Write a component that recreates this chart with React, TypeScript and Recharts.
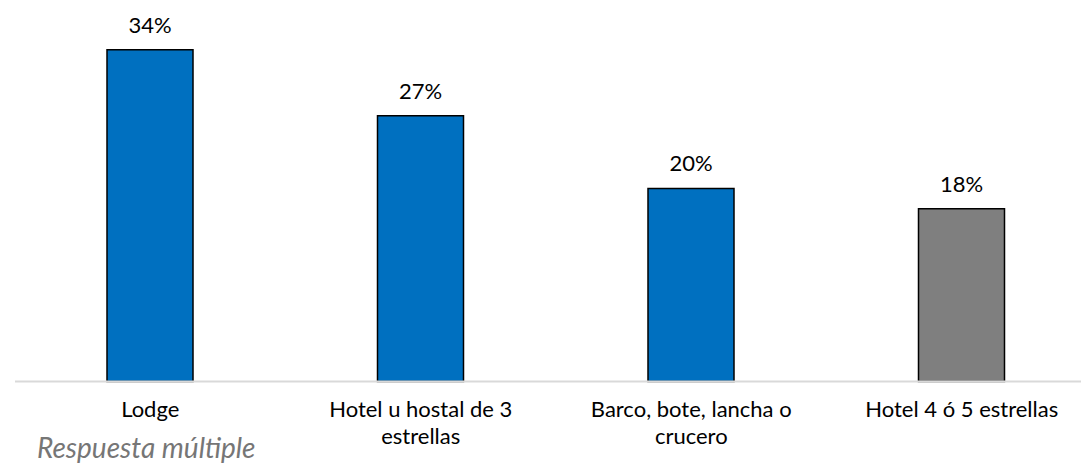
import { BarChart, Bar, XAxis, YAxis, LabelList, Cell } from "recharts"

const categories = [
  "Lodge",
  "Hotel u hostal de 3 estrellas",
  "Barco, bote, lancha o crucero",
  "Hotel 4 ó 5 estrellas",
]
const tickLines = [
  ["Lodge"],
  ["Hotel u hostal de 3", "estrellas"],
  ["Barco, bote, lancha o", "crucero"],
  ["Hotel 4 ó 5 estrellas"],
]
const shares = [34.2, 27.4, 19.9, 17.8]
const barColors = ["#0070c0", "#0070c0", "#0070c0", "#7f7f7f"]
const note = "Respuesta múltiple"

const data = categories.map((name, i) => ({ name, value: shares[i], idx: i }))

const FONT = "Lato, 'Open Sans', sans-serif"

function CategoryTick(props: any) {
  const { x, y, index } = props
  const lines = tickLines[index] || [props.payload.value]
  return (
    <text x={x} y={y} textAnchor="middle" fontFamily={FONT} fontSize={22} fill="#000">
      {lines.map((l: string, i: number) => (
        <tspan key={i} x={x} dy={27}>
          {l}
        </tspan>
      ))}
    </text>
  )
}

export default function App() {
  return (
    <div
      style={{
        position: "absolute",
        left: 0,
        top: 0,
        width: 1081,
        height: 467,
        overflow: "hidden",
        background: "#fff",
      }}
    >
      <BarChart
        width={1100}
        height={467}
        data={data}
        margin={{ top: 42, right: 3, left: 15, bottom: 0 }}
      >
        <XAxis
          dataKey="name"
          axisLine={{ stroke: "#d9d9d9", strokeWidth: 2 }}
          tickLine={false}
          interval={0}
          height={85.5}
          tick={<CategoryTick />}
        />
        <YAxis hide domain={[0, 35]} />
        <Bar dataKey="value" barSize={86} stroke="#000" strokeWidth={1.5} isAnimationActive={false}>
          {data.map((d) => (
            <Cell key={d.name} fill={barColors[d.idx]} />
          ))}
          <LabelList
            dataKey="value"
            position="top"
            offset={17}
            formatter={(v: any) => `${Math.round(Number(v))}%`}
            style={{ fontFamily: FONT, fontSize: 22, fill: "#000" }}
          />
        </Bar>
      </BarChart>
      <div
        style={{
          position: "absolute",
          left: 37,
          top: 431,
          fontFamily: FONT,
          fontStyle: "italic",
          fontSize: 28,
          lineHeight: "32px",
          color: "#767676",
          whiteSpace: "nowrap",
        }}
      >
        {note}
      </div>
    </div>
  )
}
